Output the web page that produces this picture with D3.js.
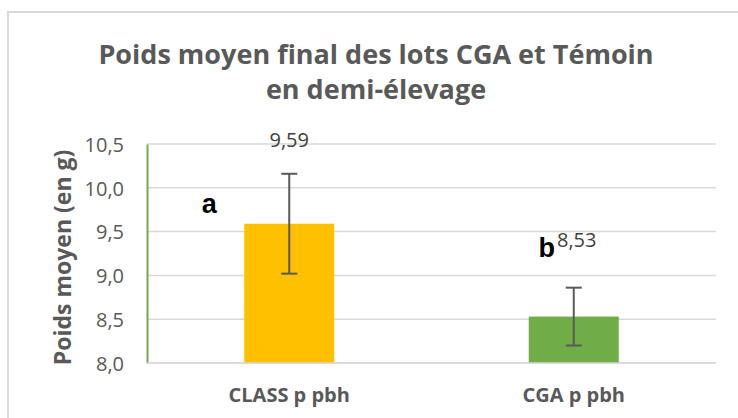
<!DOCTYPE html>
<meta charset="utf-8">
<style>
	body { margin: 0; background: #fff; }
	text { font-family: "Open Sans", sans-serif; }
	.grid line { stroke: #d9d9d9; stroke-width: 1.5; }
	.tick text { fill: #595959; font-size: 20px; }
</style>
<body>
<script src="https://d3js.org/d3.v7.min.js"></script>
<script>
// data
var categories = ["CLASS p pbh", "CGA p pbh"];
var means = [9.59, 8.53];
var errors = [0.57, 0.33];
var letters = ["a", "b"];
var colors = ["#FFC000", "#70AD47"];
var yTicks = [8.0, 8.5, 9.0, 9.5, 10.0, 10.5];
var titleLines = ["Poids moyen final des lots CGA et Témoin", "en demi-élevage"];
var yTitle = "Poids moyen (en g)";

(function(){
	var width = 738, height = 418,
		m = {left: 147, right: 22, top: 144, bottom: 55};

	var svg = d3.select("body").append("svg")
		.attr("width", width)
		.attr("height", height);

	// chart frame
	svg.append("rect")
		.attr("x", 8).attr("y", 12)
		.attr("width", width + 20).attr("height", height + 20)
		.attr("fill", "#fff")
		.attr("stroke", "#d9d9d9")
		.attr("stroke-width", 2);

	var x = d3.scaleBand()
		.domain(categories)
		.range([m.left, width - m.right]);
	var y = d3.scaleLinear()
		.domain([8, 10.5])
		.range([height - m.bottom, m.top]);

	var fmt = function(v) { return d3.format(".1f")(v).replace(".", ","); };
	var fmt2 = function(v) { return d3.format(".2f")(v).replace(".", ","); };

	// gridlines
	svg.append("g")
		.attr("class", "grid")
		.selectAll("line")
		.data(yTicks)
		.enter().append("line")
		.attr("x1", m.left).attr("x2", width - m.right)
		.attr("y1", function(d) { return y(d); })
		.attr("y2", function(d) { return y(d); });

	// y axis
	var yAxis = svg.append("g")
		.attr("transform", "translate(" + m.left + ",0)")
		.call(d3.axisLeft(y).tickValues(yTicks).tickFormat(fmt).tickSize(0).tickPadding(23));
	yAxis.select(".domain").attr("stroke", "#70AD47").attr("stroke-width", 2);
	yAxis.selectAll(".tick text").attr("dy", "0.36em");

	// bars
	var bw = 90;
	var cx = function(d) { return x(d) + x.bandwidth() / 2; };
	svg.selectAll(".bar")
		.data(categories)
		.enter().append("rect")
		.attr("class", "bar")
		.attr("x", function(d) { return cx(d) - bw / 2; })
		.attr("y", function(d, i) { return y(means[i]); })
		.attr("width", bw)
		.attr("height", function(d, i) { return y(8) - y(means[i]); })
		.attr("fill", function(d, i) { return colors[i]; });

	// x baseline over bars
	svg.append("line")
		.attr("x1", m.left).attr("x2", width - m.right)
		.attr("y1", y(8)).attr("y2", y(8))
		.attr("stroke", "#d9d9d9").attr("stroke-width", 1.5);

	// error bars
	var eb = svg.selectAll(".err")
		.data(categories)
		.enter().append("g")
		.attr("class", "err")
		.attr("stroke", "#595959")
		.attr("stroke-width", 2);
	eb.append("line")
		.attr("x1", cx).attr("x2", cx)
		.attr("y1", function(d, i) { return y(means[i] + errors[i]); })
		.attr("y2", function(d, i) { return y(means[i] - errors[i]); });
	[1, -1].forEach(function(s) {
		eb.append("line")
			.attr("x1", function(d) { return cx(d) - 8; })
			.attr("x2", function(d) { return cx(d) + 8; })
			.attr("y1", function(d, i) { return y(means[i] + s * errors[i]); })
			.attr("y2", function(d, i) { return y(means[i] + s * errors[i]); });
	});

	// value labels (moved by hand in the original)
	var valOff = [[0, -77], [3, -70]];
	svg.selectAll(".val")
		.data(categories)
		.enter().append("text")
		.attr("class", "val")
		.attr("x", function(d, i) { return cx(d) + valOff[i][0]; })
		.attr("y", function(d, i) { return y(means[i]) + valOff[i][1]; })
		.attr("text-anchor", "middle")
		.attr("fill", "#404040")
		.style("font-size", "20px")
		.text(function(d, i) { return fmt2(means[i]); });

	// significance letters
	var letOff = [[-80, -11], [-27, -60]];
	svg.selectAll(".let")
		.data(categories)
		.enter().append("text")
		.attr("class", "let")
		.attr("x", function(d, i) { return cx(d) + letOff[i][0]; })
		.attr("y", function(d, i) { return y(means[i]) + letOff[i][1]; })
		.attr("text-anchor", "middle")
		.attr("fill", "#000")
		.style("font-family", "'Liberation Sans', Arial, sans-serif")
		.style("font-weight", "bold")
		.style("font-size", "27px")
		.text(function(d, i) { return letters[i]; });

	// category labels
	svg.selectAll(".cat")
		.data(categories)
		.enter().append("text")
		.attr("class", "cat")
		.attr("x", cx)
		.attr("y", 402)
		.attr("text-anchor", "middle")
		.attr("fill", "#595959")
		.style("font-weight", "bold")
		.style("font-size", "20px")
		.text(function(d) { return d; });

	// title
	svg.selectAll(".title")
		.data(titleLines)
		.enter().append("text")
		.attr("class", "title")
		.attr("x", 376)
		.attr("y", function(d, i) { return 64 + i * 35; })
		.attr("text-anchor", "middle")
		.attr("fill", "#595959")
		.style("font-weight", "bold")
		.style("font-size", "27px")
		.text(function(d) { return d; });

	// y axis title
	svg.append("text")
		.attr("transform", "translate(71," + ((y(8) + y(10.5)) / 2 + 4) + ") rotate(-90)")
		.attr("text-anchor", "middle")
		.attr("fill", "#595959")
		.style("font-weight", "bold")
		.style("font-size", "23px")
		.text(yTitle);
})();
</script>
